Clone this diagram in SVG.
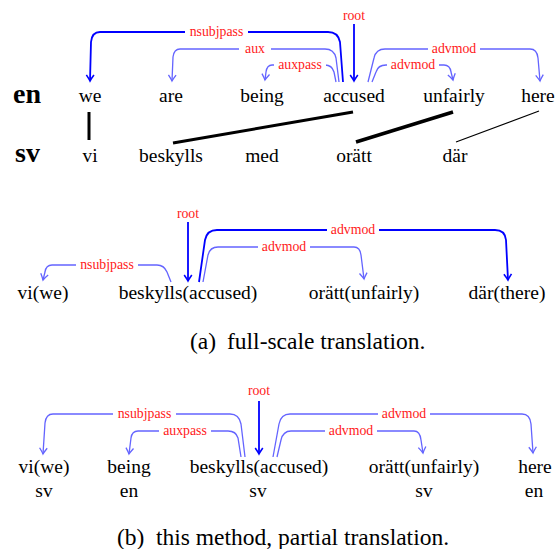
<svg xmlns="http://www.w3.org/2000/svg" width="556" height="549" viewBox="0 0 556 549" font-family="'Liberation Serif', 'DejaVu Serif', 'Times New Roman', Times, serif">
<style>
text{font-family:'Liberation Serif','DejaVu Serif','Times New Roman',Times,serif}
.w{font-size:19.5px;fill:#000;text-anchor:middle}
.lang{font-size:28px;font-weight:bold;fill:#000}
.cap{font-size:23.5px;fill:#000}
.lb{font-size:13.8px;fill:#ff1a1a;text-anchor:middle}
.bg{fill:#fff}
.d{fill:none;stroke:#0000ff;stroke-width:1.8;marker-end:url(#ad)}
.l{fill:none;stroke:#6464ff;stroke-width:1.3;marker-end:url(#al)}
.al{stroke:#000;stroke-linecap:butt}
</style>
<defs>
<marker id="ad" viewBox="-8 -5 10 10" refX="0" refY="0" markerWidth="10" markerHeight="10" markerUnits="userSpaceOnUse" orient="auto">
<path d="M-6,-3.8 Q-2,-1 0,0 Q-2,1 -6,3.8" fill="none" stroke="#0000ff" stroke-width="1.6"/>
</marker>
<marker id="al" viewBox="-8 -5 10 10" refX="0" refY="0" markerWidth="10" markerHeight="10" markerUnits="userSpaceOnUse" orient="auto">
<path d="M-6,-3.8 Q-2,-1 0,0 Q-2,1 -6,3.8" fill="none" stroke="#6464ff" stroke-width="1.3"/>
</marker>
</defs>

<g id="lang-en"><text class="lang" x="13" y="103">en</text></g>
<g id="lang-sv"><text class="lang" x="15" y="162">sv</text></g>

<g id="en-we"><text class="w" x="90" y="102">we</text></g>
<g id="en-are"><text class="w" x="171" y="102">are</text></g>
<g id="en-being"><text class="w" x="262" y="102">being</text></g>
<g id="en-accused"><text class="w" x="354" y="102">accused</text></g>
<g id="en-unfairly"><text class="w" x="454" y="102">unfairly</text></g>
<g id="en-here"><text class="w" x="538" y="102">here</text></g>

<g id="sv-vi"><text class="w" x="90" y="162">vi</text></g>
<g id="sv-beskylls"><text class="w" x="171" y="162">beskylls</text></g>
<g id="sv-med"><text class="w" x="262" y="162">med</text></g>
<g id="sv-oratt"><text class="w" x="354" y="162">orätt</text></g>
<g id="sv-dar"><text class="w" x="455" y="162">där</text></g>

<g id="a-vi"><text class="w" x="43" y="299">vi(we)</text></g>
<g id="a-beskylls"><text class="w" x="188" y="299">beskylls(accused)</text></g>
<g id="a-oratt"><text class="w" x="364" y="299">orätt(unfairly)</text></g>
<g id="a-dar"><text class="w" x="507" y="299">där(there)</text></g>

<g id="caption-a"><text class="cap" x="190" y="349">(a)</text><text class="cap" x="227" y="349">full-scale translation.</text></g>

<g id="b-vi"><text class="w" x="44" y="473">vi(we)</text><text class="w" x="44" y="497">sv</text></g>
<g id="b-being"><text class="w" x="129" y="473">being</text><text class="w" x="129" y="497">en</text></g>
<g id="b-beskylls"><text class="w" x="259" y="473">beskylls(accused)</text><text class="w" x="258" y="497">sv</text></g>
<g id="b-oratt"><text class="w" x="424" y="473">orätt(unfairly)</text><text class="w" x="424" y="497">sv</text></g>
<g id="b-here"><text class="w" x="535" y="473">here</text><text class="w" x="534" y="497">en</text></g>

<g id="caption-b"><text class="cap" x="117" y="545">(b)</text><text class="cap" x="156" y="545">this method, partial translation.</text></g>

<g id="connectors">
<line class="al" x1="89" y1="112" x2="89" y2="140" stroke-width="3"/>
<line class="al" x1="353" y1="112" x2="173" y2="143" stroke-width="3"/>
<line class="al" x1="453" y1="112" x2="356" y2="142" stroke-width="3.5"/>
<line class="al" x1="539" y1="111" x2="456" y2="142" stroke-width="1.2"/>

<path class="d" d="M343,82 L340,42 Q338,32 328,32 H100 Q92,32 91,42 L90,81"/>
<path class="l" d="M339,82 L336,58 Q334,49 325,49 H180 Q174,49 173,57 L172,81"/>
<path class="l" d="M336,82 L334,72 Q332,65 325,65 H272 Q267,65 266,72 L265,80"/>
<path class="d" d="M354,24 L354,81"/>
<path class="l" d="M368,82 L374,58 Q376,49 385,49 H530 Q537,49 538,58 L540,81"/>
<path class="l" d="M372,82 L376,72 Q378,65 386,65 H444 Q450,65 451,72 L453,80"/>
<rect class="bg" x="185" y="26" width="63" height="12"/><text class="lb" x="216.5" y="36">nsubjpass</text>
<rect class="bg" x="239" y="43" width="32" height="12"/><text class="lb" x="255" y="53">aux</text>
<rect class="bg" x="274" y="59" width="52" height="12"/><text class="lb" x="300" y="69">auxpass</text>
<text class="lb" x="354" y="20">root</text>
<rect class="bg" x="428" y="43" width="52" height="12"/><text class="lb" x="454" y="53">advmod</text>
<rect class="bg" x="387" y="59" width="52" height="12"/><text class="lb" x="413" y="69">advmod</text>

<path class="d" d="M188,222 L188,281"/>
<path class="l" d="M171,282 L167,272 Q164,265 157,265 H52 Q46,265 45,272 L43,280"/>
<path class="d" d="M199,282 L205,240 Q207,230 217,230 H495 Q505,230 506,240 L508,280"/>
<path class="l" d="M203,282 L208,255 Q210,247 218,247 H354 Q360,247 361,255 L364,279"/>
<text class="lb" x="188" y="218">root</text>
<rect class="bg" x="76" y="259" width="62" height="12"/><text class="lb" x="107" y="269">nsubjpass</text>
<rect class="bg" x="327" y="224" width="52" height="12"/><text class="lb" x="353" y="234">advmod</text>
<rect class="bg" x="258" y="241" width="52" height="12"/><text class="lb" x="284" y="251">advmod</text>

<path class="d" d="M259,401 L259,454"/>
<path class="l" d="M245,457 L241,424 Q239,414 230,414 H53 Q46,414 45,423 L43,454"/>
<path class="l" d="M241,457 L238,438 Q236,431 228,431 H138 Q132,431 131,438 L129,454"/>
<path class="l" d="M273,457 L279,424 Q281,414 290,414 H522 Q530,414 531,424 L533,453"/>
<path class="l" d="M277,457 L281,440 Q283,431 291,431 H414 Q420,431 421,440 L423,453"/>
<text class="lb" x="259" y="395">root</text>
<rect class="bg" x="113" y="408" width="63" height="12"/><text class="lb" x="144.5" y="418">nsubjpass</text>
<rect class="bg" x="159" y="425" width="52" height="12"/><text class="lb" x="185" y="435">auxpass</text>
<rect class="bg" x="378" y="408" width="52" height="12"/><text class="lb" x="404" y="418">advmod</text>
<rect class="bg" x="325" y="425" width="52" height="12"/><text class="lb" x="351" y="435">advmod</text>
</g>
</svg>
